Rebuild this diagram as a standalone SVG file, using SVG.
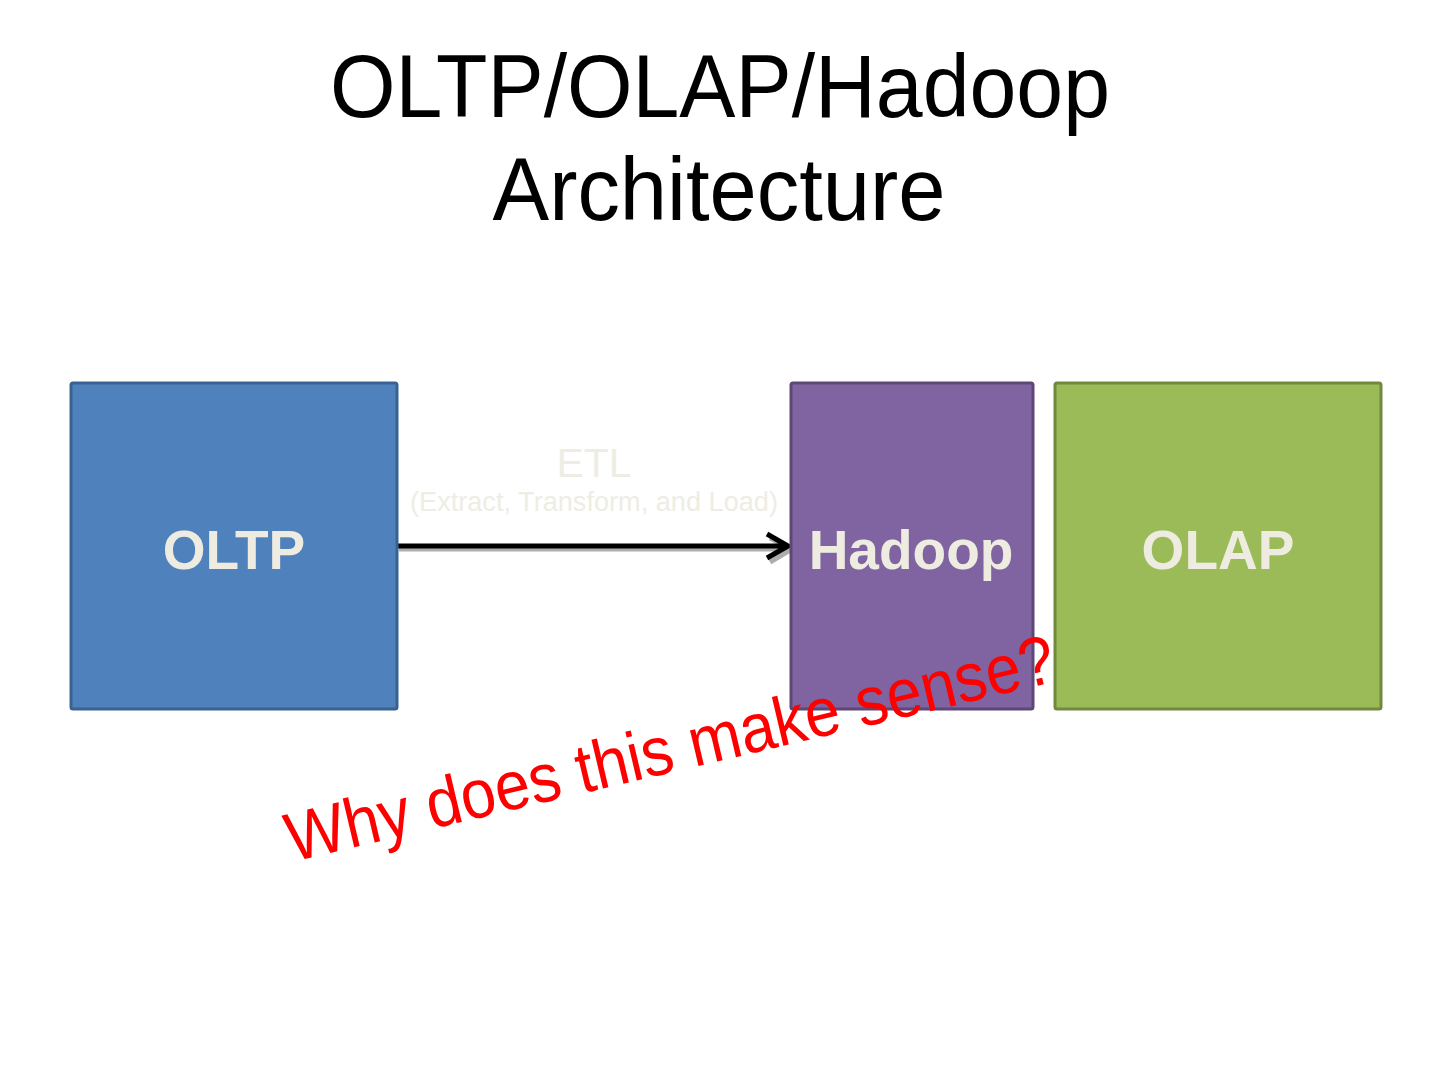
<svg xmlns="http://www.w3.org/2000/svg" width="1440" height="1080" viewBox="0 0 1440 1080">
<defs>
<style>
.title{font-family:"Liberation Sans",Arial,sans-serif;font-size:89px;fill:#000;text-anchor:middle}
.box{stroke-width:3}
.lbl{font-family:"Liberation Sans",Arial,sans-serif;font-weight:bold;font-size:55px;fill:#EEECE1;text-anchor:middle}
.etl{font-family:"Liberation Sans",Arial,sans-serif;fill:#EEEDE4;text-anchor:middle}
.conn{fill:none;stroke:#000;stroke-width:5;stroke-linejoin:miter}
.shadow{fill:none;stroke:#999;stroke-width:5;opacity:0.8}
.q{font-family:"Liberation Sans",Arial,sans-serif;font-size:69px;fill:#F00}
</style>
</defs>
<rect width="1440" height="1080" fill="#fff"/>
<g id="title">
<text class="title" x="720" y="117" textLength="780" lengthAdjust="spacingAndGlyphs">OLTP/OLAP/Hadoop</text>
<text class="title" x="719" y="220" textLength="453" lengthAdjust="spacingAndGlyphs">Architecture</text>
</g>
<g id="connectors">
<path class="shadow" d="M399,549 L792,549 M770,538 L792,549 L770,562"/>
<path class="conn" d="M397,546 L788,546 M767,534 L788,546 L767,558"/>
<text class="etl" x="594" y="477" font-size="41">ETL</text>
<text class="etl" x="594" y="511" font-size="27" textLength="368" lengthAdjust="spacingAndGlyphs">(Extract, Transform, and Load)</text>
</g>
<g id="oltp">
<rect class="box" x="71" y="383" width="326" height="326" rx="2" fill="#4F81BD" stroke="#3A6291"/>
<text class="lbl" x="234" y="569">OLTP</text>
</g>
<g id="hadoop">
<rect class="box" x="791" y="383" width="242" height="326" rx="2" fill="#8064A2" stroke="#5C4776"/>
<text class="lbl" x="911" y="569">Hadoop</text>
</g>
<g id="olap">
<rect class="box" x="1055" y="383" width="326" height="326" rx="2" fill="#9BBB59" stroke="#71893F"/>
<text class="lbl" x="1218" y="569">OLAP</text>
</g>
<g id="question">
<text class="q" transform="translate(292,862) rotate(-13.3)" textLength="788" lengthAdjust="spacingAndGlyphs">Why does this make sense?</text>
</g>
</svg>
